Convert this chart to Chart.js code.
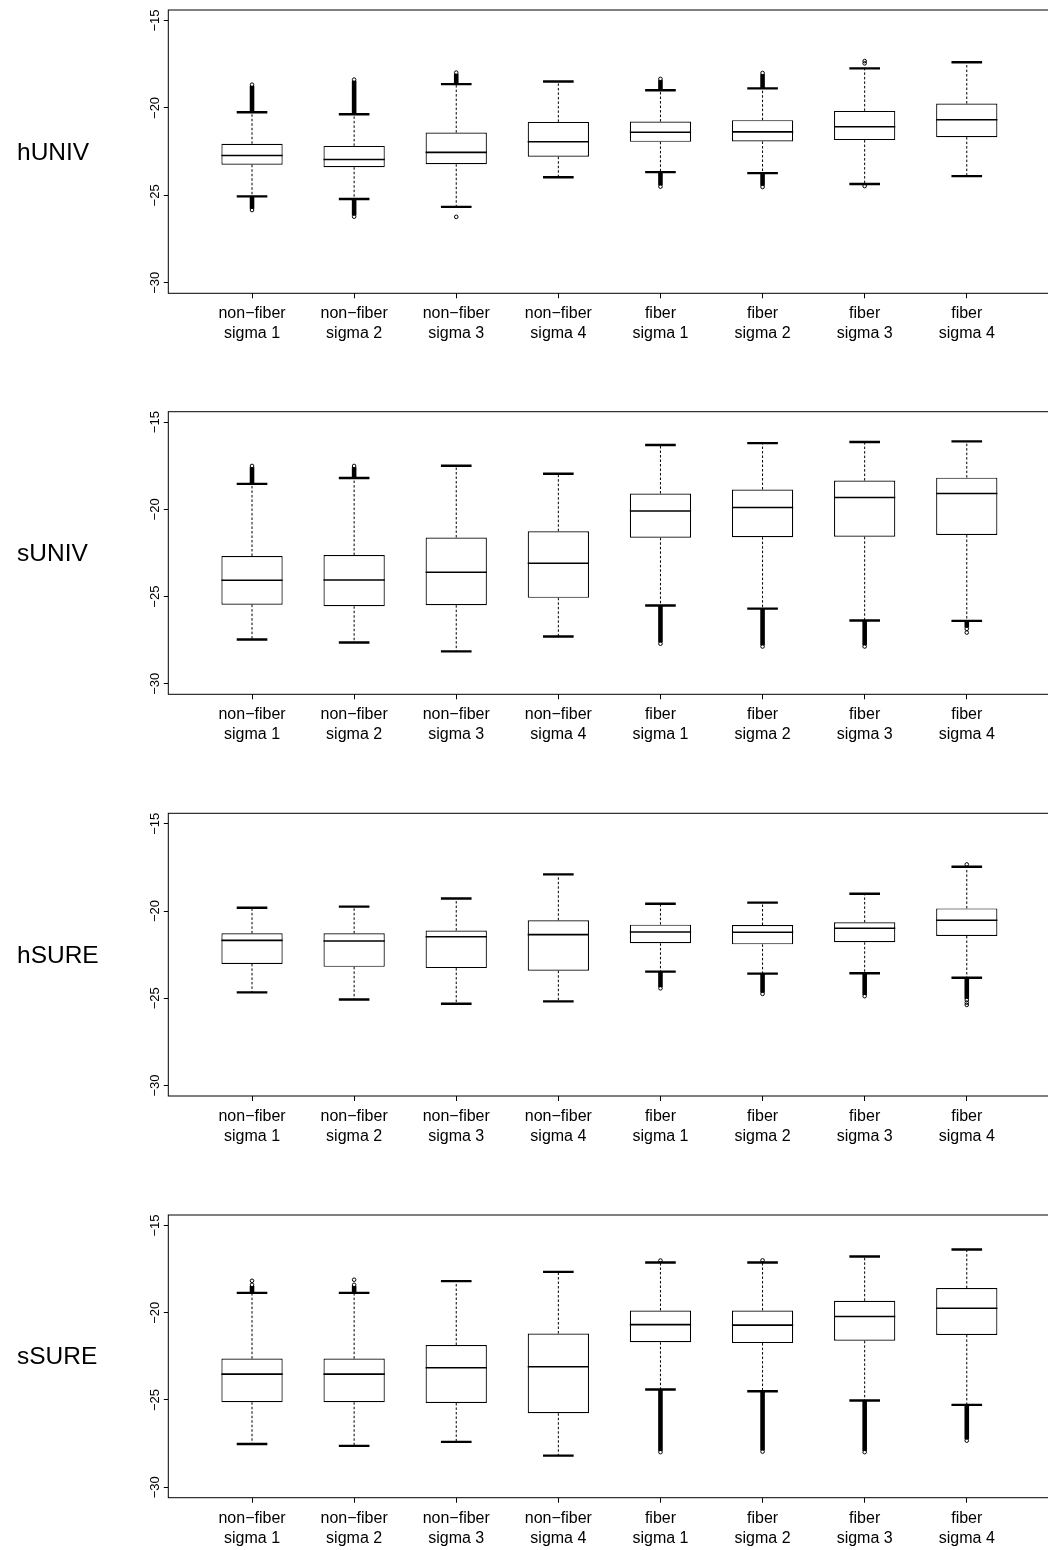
<!DOCTYPE html>
<html>
<head>
<meta charset="utf-8">
<title>hUNIV / sUNIV / hSURE / sSURE</title>
<script src="https://cdn.jsdelivr.net/npm/chart.js@4.4.1/dist/chart.umd.min.js"></script>
<style>
  html, body { margin: 0; padding: 0; background: #fff; overflow: hidden; width: 1048px; height: 1550px; }
  .panel { position: absolute; left: 0; width: 1056px; height: 400px; }
  .panel canvas { position: absolute; left: 0; top: 0; }
  .side { position: absolute; left: 17px; font-family: "Liberation Sans", Arial, sans-serif; font-size: 24.5px;
          line-height: 1; color: #000; transform: translateY(-50%); white-space: nowrap; }
</style>
</head>
<body>
<script>
// ---- categories and axis ticks ----
const categories = [
  ['non−fiber', 'sigma 1'], ['non−fiber', 'sigma 2'], ['non−fiber', 'sigma 3'], ['non−fiber', 'sigma 4'],
  ['fiber', 'sigma 1'], ['fiber', 'sigma 2'], ['fiber', 'sigma 3'], ['fiber', 'sigma 4']
];
const yTickValues = [-30, -25, -20, -15];
const yTickLabels = ['−30', '−25', '−20', '−15'];

// ---- hUNIV ----
const hUNIV_lo     = [-25.06, -25.21, -25.66, -23.96, -23.67, -23.73, -24.35, -23.90];
const hUNIV_q1     = [-23.25, -23.39, -23.22, -22.79, -21.94, -21.92, -21.84, -21.67];
const hUNIV_med    = [-22.72, -22.95, -22.54, -21.93, -21.39, -21.37, -21.08, -20.68];
const hUNIV_q3     = [-22.05, -22.17, -21.41, -20.80, -20.78, -20.70, -20.17, -19.75];
const hUNIV_hi     = [-20.25, -20.36, -18.64, -18.49, -18.99, -18.88, -17.74, -17.39];
const hUNIV_tailLo = [-25.84, -26.22, null, null, -24.50, -24.52, null, null];
const hUNIV_tailHi = [-18.67, -18.38, -17.98, null, -18.34, -18.00, null, null];
const hUNIV_single = [[], [], [-26.23], [], [], [], [-17.32, -17.45, -24.47], []];

// ---- sUNIV ----
const sUNIV_lo     = [-27.46, -27.63, -28.14, -27.29, -25.51, -25.69, -26.37, -26.39];
const sUNIV_q1     = [-25.46, -25.55, -25.49, -25.07, -21.63, -21.59, -21.57, -21.47];
const sUNIV_med    = [-24.06, -24.05, -23.60, -23.09, -20.09, -19.89, -19.32, -19.09];
const sUNIV_q3     = [-22.67, -22.62, -21.61, -21.25, -19.09, -18.86, -18.35, -18.18];
const sUNIV_hi     = [-18.54, -18.20, -17.50, -17.96, -16.31, -16.20, -16.14, -16.10];
const sUNIV_tailLo = [null, null, null, null, -27.70, -27.86, -27.86, -26.85];
const sUNIV_tailHi = [-17.51, -17.51, null, null, null, null, null, null];
const sUNIV_single = [[], [], [], [], [], [], [], [-27.06]];

// ---- hSURE ----
const hSURE_lo     = [-24.66, -25.07, -25.31, -25.18, -23.47, -23.59, -23.57, -23.82];
const hSURE_q1     = [-23.03, -23.20, -23.27, -23.42, -21.85, -21.91, -21.79, -21.43];
const hSURE_med    = [-21.68, -21.72, -21.47, -21.35, -21.20, -21.22, -20.99, -20.53];
const hSURE_q3     = [-21.28, -21.28, -21.12, -20.53, -20.78, -20.80, -20.65, -19.85];
const hSURE_hi     = [-19.81, -19.75, -19.28, -17.90, -19.58, -19.52, -19.01, -17.46];
const hSURE_tailLo = [null, null, null, null, -24.43, -24.75, -24.88, -25.10];
const hSURE_tailHi = [null, null, null, null, null, null, null, null];
const hSURE_single = [[], [], [], [], [], [], [], [-17.33, -25.25, -25.38]];

// ---- sSURE ----
const sSURE_lo     = [-27.52, -27.63, -27.40, -28.19, -24.40, -24.50, -25.03, -25.28];
const sSURE_q1     = [-25.13, -25.13, -25.17, -25.76, -21.69, -21.74, -21.61, -21.27];
const sSURE_med    = [-23.52, -23.52, -23.15, -23.10, -20.68, -20.71, -20.22, -19.74];
const sSURE_q3     = [-22.63, -22.63, -21.85, -21.19, -19.87, -19.87, -19.32, -18.59];
const sSURE_hi     = [-18.86, -18.86, -18.19, -17.66, -17.12, -17.12, -16.78, -16.38];
const sSURE_tailLo = [null, null, null, null, -27.99, -27.96, -27.99, -27.33];
const sSURE_tailHi = [-18.40, -18.40, null, null, -17.01, -17.00, null, null];
const sSURE_single = [[-18.17], [-18.11], [], [], [], [], [], []];

const panels = [
  { name: 'hUNIV', lo: hUNIV_lo, q1: hUNIV_q1, med: hUNIV_med, q3: hUNIV_q3, hi: hUNIV_hi, tailLo: hUNIV_tailLo, tailHi: hUNIV_tailHi, single: hUNIV_single },
  { name: 'sUNIV', lo: sUNIV_lo, q1: sUNIV_q1, med: sUNIV_med, q3: sUNIV_q3, hi: sUNIV_hi, tailLo: sUNIV_tailLo, tailHi: sUNIV_tailHi, single: sUNIV_single },
  { name: 'hSURE', lo: hSURE_lo, q1: hSURE_q1, med: hSURE_med, q3: hSURE_q3, hi: hSURE_hi, tailLo: hSURE_tailLo, tailHi: hSURE_tailHi, single: hSURE_single },
  { name: 'sSURE', lo: sSURE_lo, q1: sSURE_q1, med: sSURE_med, q3: sSURE_q3, hi: sSURE_hi, tailLo: sSURE_tailLo, tailHi: sSURE_tailHi, single: sSURE_single }
];

// ---- page layout (pixels) ----
const CANVAS_W = 1056, CANVAS_H = 400;
const panelTop   = [0, 401, 803, 1205];
const areaTop    = [10, 10.7, 10.3, 10];
const areaBottom = [293.3, 293.3, 293, 292.7];
const AREA_LEFT = 168.3, AREA_RIGHT = 1050.5;
const FONT = '"Liberation Sans", Arial, Helvetica, sans-serif';

function boxParts(p) {
  return {
    id: 'boxParts_' + p.name,
    afterDatasetsDraw(chart) {
      const ctx = chart.ctx, xs = chart.scales.x, ys = chart.scales.y;
      const unit = xs.getPixelForValue(2) - xs.getPixelForValue(1);
      ctx.save();
      ctx.strokeStyle = '#000';
      for (let i = 0; i < categories.length; i++) {
        const xp = xs.getPixelForValue(i + 1);
        const yLo = ys.getPixelForValue(p.lo[i]), yHi = ys.getPixelForValue(p.hi[i]);
        const yQ1 = ys.getPixelForValue(p.q1[i]), yQ3 = ys.getPixelForValue(p.q3[i]);
        const yMed = ys.getPixelForValue(p.med[i]);
        // dashed whiskers
        ctx.setLineDash([2.5, 2]);
        ctx.lineWidth = 1;
        ctx.beginPath();
        ctx.moveTo(xp, yQ3); ctx.lineTo(xp, yHi);
        ctx.moveTo(xp, yQ1); ctx.lineTo(xp, yLo);
        ctx.stroke();
        ctx.setLineDash([]);
        // whisker caps
        ctx.lineWidth = 2.4;
        ctx.beginPath();
        ctx.moveTo(xp - 0.15 * unit, yHi); ctx.lineTo(xp + 0.15 * unit, yHi);
        ctx.moveTo(xp - 0.15 * unit, yLo); ctx.lineTo(xp + 0.15 * unit, yLo);
        ctx.stroke();
        // median
        ctx.lineWidth = 1.6;
        ctx.beginPath();
        ctx.moveTo(xp - 0.3 * unit, yMed); ctx.lineTo(xp + 0.3 * unit, yMed);
        ctx.stroke();
        // dense runs of outliers beyond the caps
        [[p.tailHi[i], yHi, -1], [p.tailLo[i], yLo, 1]].forEach(([tv, yCap, dir]) => {
          if (tv === null) return;
          const yEnd = ys.getPixelForValue(tv);
          ctx.lineWidth = 4.6;
          ctx.lineCap = 'butt';
          ctx.beginPath();
          ctx.moveTo(xp, yCap);
          ctx.lineTo(xp, yEnd - dir * 1.2);
          ctx.stroke();
          ctx.lineWidth = 1;
          ctx.beginPath();
          ctx.arc(xp, yEnd, 1.8, 0, Math.PI * 2);
          ctx.stroke();
        });
      }
      ctx.restore();
    },
    afterDraw(chart) {
      const ctx = chart.ctx, ys = chart.scales.y, a = chart.chartArea;
      ctx.save();
      // plot frame
      ctx.strokeStyle = '#000';
      ctx.lineWidth = 1;
      ctx.strokeRect(a.left, a.top, a.right - a.left, a.bottom - a.top);
      // rotated y tick labels
      ctx.fillStyle = '#000';
      ctx.font = '13px ' + FONT;
      ctx.textAlign = 'center';
      ctx.textBaseline = 'middle';
      yTickValues.forEach((v, k) => {
        const yp = ys.getPixelForValue(v);
        ctx.save();
        ctx.translate(a.left - 13, yp);
        ctx.rotate(-Math.PI / 2);
        ctx.fillText(yTickLabels[k], 0, 0);
        ctx.restore();
      });
      ctx.restore();
    }
  };
}

panels.forEach((p, k) => {
  const div = document.createElement('div');
  div.className = 'panel';
  div.style.top = panelTop[k] + 'px';
  const canvas = document.createElement('canvas');
  canvas.width = CANVAS_W; canvas.height = CANVAS_H;
  canvas.style.width = CANVAS_W + 'px'; canvas.style.height = CANVAS_H + 'px';
  div.appendChild(canvas);
  document.body.appendChild(div);

  const label = document.createElement('div');
  label.className = 'side';
  label.textContent = p.name;
  label.style.top = (panelTop[k] + (areaTop[k] + areaBottom[k]) / 2) + 'px';
  document.body.appendChild(label);

  const singles = [];
  p.single.forEach((vals, i) => vals.forEach(v => singles.push({ x: i + 1, y: v })));

  new Chart(canvas, {
    type: 'bar',
    data: {
      datasets: [
        {
          type: 'bar',
          data: p.q1.map((v, i) => ({ x: i + 1, y: [p.q1[i], p.q3[i]] })),
          backgroundColor: '#fff',
          borderColor: '#000',
          borderWidth: 1.2,
          borderSkipped: false,
          barPercentage: 0.6,
          categoryPercentage: 1
        },
        {
          type: 'scatter',
          data: singles,
          pointStyle: 'circle',
          pointRadius: 1.8,
          pointBorderWidth: 1,
          pointBorderColor: '#000',
          pointBackgroundColor: 'rgba(0,0,0,0)'
        }
      ]
    },
    options: {
      responsive: false,
      animation: false,
      events: [],
      layout: { padding: { left: 0, top: areaTop[k], right: CANVAS_W - AREA_RIGHT, bottom: 0 } },
      plugins: { legend: { display: false }, tooltip: { enabled: false } },
      scales: {
        x: {
          type: 'linear',
          min: 0.18, max: 8.82,
          offset: false,
          afterBuildTicks: s => { s.ticks = categories.map((c, i) => ({ value: i + 1 })); },
          afterFit: s => { s.height = CANVAS_H - areaBottom[k]; },
          grid: { display: true, offset: false, drawOnChartArea: false, drawTicks: true, tickLength: 5, color: '#000', lineWidth: 1 },
          border: { display: false },
          ticks: {
            autoSkip: false, maxRotation: 0, minRotation: 0, padding: 5.5, color: '#000',
            font: { family: FONT, size: 16, lineHeight: 1.26 },
            callback: v => categories[Math.round(v) - 1]
          }
        },
        y: {
          type: 'linear',
          min: -30.6, max: -14.4,
          afterBuildTicks: s => { s.ticks = yTickValues.map(v => ({ value: v })); },
          afterFit: s => { s.width = AREA_LEFT; },
          grid: { display: true, drawOnChartArea: false, drawTicks: true, tickLength: 4.5, color: '#000', lineWidth: 1 },
          border: { display: false },
          ticks: { display: false }
        }
      }
    },
    plugins: [boxParts(p)]
  });
});
</script>
</body>
</html>
